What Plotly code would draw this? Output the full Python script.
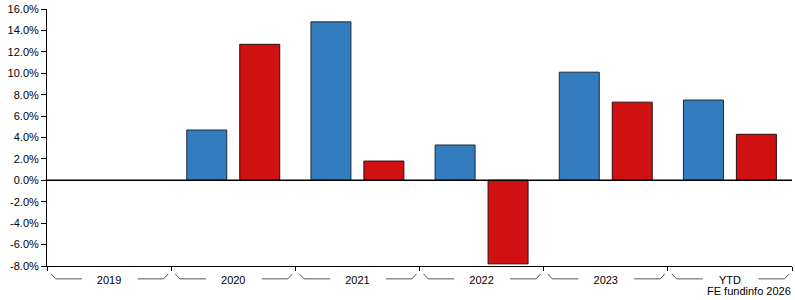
import plotly.graph_objects as go

categories = ["2019", "2020", "2021", "2022", "2023", "YTD"]
series_a = [None, 4.7, 14.8, 3.3, 10.1, 7.5]
series_b = [None, 12.7, 1.8, -7.8, 7.3, 4.3]
y_ticks = [-8, -6, -4, -2, 0, 2, 4, 6, 8, 10, 12, 14, 16]
y_tick_labels = [f"{v:.1f}%" for v in y_ticks]
credit = "FE fundinfo 2026"

fig = go.Figure()
fig.add_trace(go.Bar(x=categories, y=series_a, marker=dict(color="#337dbf", line=dict(color="#1c2a3a", width=1))))
fig.add_trace(go.Bar(x=categories, y=series_b, marker=dict(color="#cf1111", line=dict(color="#2a1010", width=1))))

# bracket decorations under each category
shapes = []
for i, _ in enumerate(categories):
    shapes.append(dict(type="path", xref="x", yref="paper",
                       path=f"M {i-0.467},-0.031 L {i-0.43},-0.05 L {i-0.22},-0.05",
                       line=dict(color="#555555", width=1)))
    shapes.append(dict(type="path", xref="x", yref="paper",
                       path=f"M {i+0.23},-0.05 L {i+0.44},-0.05 L {i+0.475},-0.031",
                       line=dict(color="#555555", width=1)))
shapes.append(dict(type="line", xref="paper", yref="y", x0=0, x1=1, y0=0, y1=0,
                   line=dict(color="black", width=1.5)))

fig.update_layout(
    width=795, height=300,
    margin=dict(l=47, r=3, t=9, b=34),
    paper_bgcolor="white", plot_bgcolor="white",
    barmode="group", bargap=0.147, bargroupgap=0.245,
    showlegend=False,
    font=dict(family="Liberation Sans, Arial, sans-serif", size=11, color="black"),
    shapes=shapes,
    annotations=[dict(text=credit, xref="paper", yref="paper", x=1.002, y=-0.068,
                      xanchor="right", yanchor="top", showarrow=False,
                      font=dict(size=11, color="black"))],
)
fig.update_xaxes(type="category", showline=True, linecolor="black", linewidth=1,
                 ticks="outside", tickson="boundaries", ticklen=4, tickcolor="black",
                 showgrid=False, zeroline=False, ticklabelstandoff=4)
fig.update_yaxes(range=[-8, 16], tickvals=y_ticks, ticktext=y_tick_labels,
                 showline=True, linecolor="black", linewidth=1,
                 ticks="outside", ticklen=5, tickcolor="black",
                 showgrid=False, zeroline=False)

fig.write_html("out.html")
